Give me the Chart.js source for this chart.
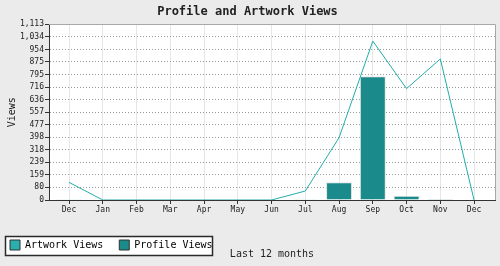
<!DOCTYPE html>
<html>
<head>
<meta charset="utf-8">
<script src="https://cdn.jsdelivr.net/npm/chart.js@4/dist/chart.umd.min.js"></script>
<style>
html,body{margin:0;padding:0;background:#ebebeb;}
#wrap{width:500px;height:266px;}
</style>
</head>
<body>
<div id="wrap"><canvas id="c" width="500" height="266"></canvas></div>
<script>
const months = ['Dec','Jan','Feb','Mar','Apr','May','Jun','Jul','Aug','Sep','Oct','Nov','Dec'];
const artworkViews = [112, 0, 0, 0, 0, 0, 0, 57, 395, 1007, 706, 894, 0];
const profileViews = [1, 0, 0, 0, 0, 0, 0, 1, 112, 784, 27, 7, 0];
const yTicks = [0, 80, 159, 239, 318, 398, 477, 557, 636, 716, 795, 875, 954, 1034, 1113];
const chartTitle = 'Profile and Artwork Views';
const yTitle = 'Views';
const xTitle = 'Last 12 months';
const seriesNames = ['Artwork Views', 'Profile Views'];

const FONT = "'DejaVu Sans Mono', monospace";
const lineColor = '#22adab';
const barColor = '#1b8a8a';
const swatches = ['#2aafaf', '#1b8a8a'];

const decor = {
  id: 'decor',
  beforeDraw(chart) {
    const ctx = chart.ctx, a = chart.chartArea;
    ctx.save();
    ctx.fillStyle = '#ebebeb';
    ctx.fillRect(0, 0, chart.width, chart.height);
    ctx.fillStyle = '#ffffff';
    ctx.fillRect(a.left, a.top, a.right - a.left, a.bottom - a.top);
    ctx.fillRect(5, 236, 208, 20);
    ctx.strokeStyle = '#2a2a2a';
    ctx.lineWidth = 1.5;
    ctx.strokeRect(5.5, 236.5, 207, 19);
    ctx.restore();
    if (chart.legend) { chart.legend.left = -6; }
  },
  afterDraw(chart) {
    const ctx = chart.ctx, a = chart.chartArea;
    ctx.save();
    ctx.strokeStyle = '#a8a8a8';
    ctx.lineWidth = 1;
    ctx.beginPath();
    ctx.moveTo(a.left, Math.round(a.top) + 0.5);
    ctx.lineTo(Math.round(a.right) + 0.5, Math.round(a.top) + 0.5);
    ctx.lineTo(Math.round(a.right) + 0.5, a.bottom);
    ctx.stroke();
    ctx.fillStyle = '#222';
    ctx.font = '10px ' + FONT;
    ctx.textAlign = 'center';
    ctx.textBaseline = 'middle';
    ctx.fillText(xTitle, (a.left + a.right) / 2, 254);
    ctx.restore();
  }
};

new Chart(document.getElementById('c'), {
  type: 'bar',
  data: {
    datasets: [
      {
        type: 'line',
        label: seriesNames[0],
        data: artworkViews.map((v, i) => ({x: i, y: v})),
        borderColor: lineColor,
        backgroundColor: swatches[0],
        borderWidth: 1,
        pointRadius: 0,
        tension: 0,
        fill: false
      },
      {
        type: 'bar',
        label: seriesNames[1],
        data: profileViews.map((v, i) => ({x: i, y: v})),
        backgroundColor: barColor,
        borderColor: '#e4e4e4',
        borderWidth: 1,
        categoryPercentage: 1,
        barPercentage: 0.77
      }
    ]
  },
  options: {
    responsive: false,
    animation: false,
    devicePixelRatio: 1,
    layout: {padding: {left: 0, right: 5, top: 0, bottom: 6}},
    plugins: {
      title: {
        display: true,
        text: chartTitle,
        color: '#222',
        font: {family: FONT, size: 12, weight: 'bold'},
        padding: {top: 5, bottom: 5}
      },
      legend: {
        position: 'bottom',
        align: 'start',
        labels: {
          color: '#222',
          font: {family: FONT, size: 10},
          boxWidth: 10,
          boxHeight: 10,
          padding: 16,
          generateLabels: chart => chart.data.datasets.map((d, i) => ({
            text: d.label,
            fillStyle: swatches[i],
            strokeStyle: '#333',
            lineWidth: 1,
            hidden: false,
            datasetIndex: i
          }))
        }
      },
      tooltip: {enabled: false}
    },
    scales: {
      x: {
        type: 'linear',
        offset: false,
        min: -0.593,
        max: 12.62,
        afterBuildTicks: s => { s.ticks = months.map((m, i) => ({value: i})); },
        afterFit: s => { s.height = 24; },
        ticks: {
          callback: v => months[v],
          autoSkip: false,
          maxRotation: 0,
          color: '#222',
          font: {family: FONT, size: 8},
          padding: 1
        },
        grid: {color: '#e6e6e6', lineWidth: 1, tickColor: '#333', tickLength: 4, offset: false},
        border: {color: '#333', width: 1}
      },
      y: {
        min: 0,
        max: 1113,
        afterBuildTicks: s => { s.ticks = yTicks.map(v => ({value: v})); },
        afterFit: s => { s.width = 49; },
        ticks: {
          callback: v => v.toLocaleString('en-US'),
          color: '#222',
          font: {family: FONT, size: 8},
          padding: 1,
          autoSkip: false
        },
        grid: {color: '#9a9a9a', lineWidth: 1, tickColor: '#333', tickLength: 4, tickBorderDash: []},
        border: {color: '#333', width: 1, dash: [1, 2]},
        title: {
          display: true,
          text: yTitle,
          color: '#222',
          font: {family: FONT, size: 10},
          padding: {top: 6, bottom: 0}
        }
      }
    }
  },
  plugins: [decor]
});
</script>
</body>
</html>
